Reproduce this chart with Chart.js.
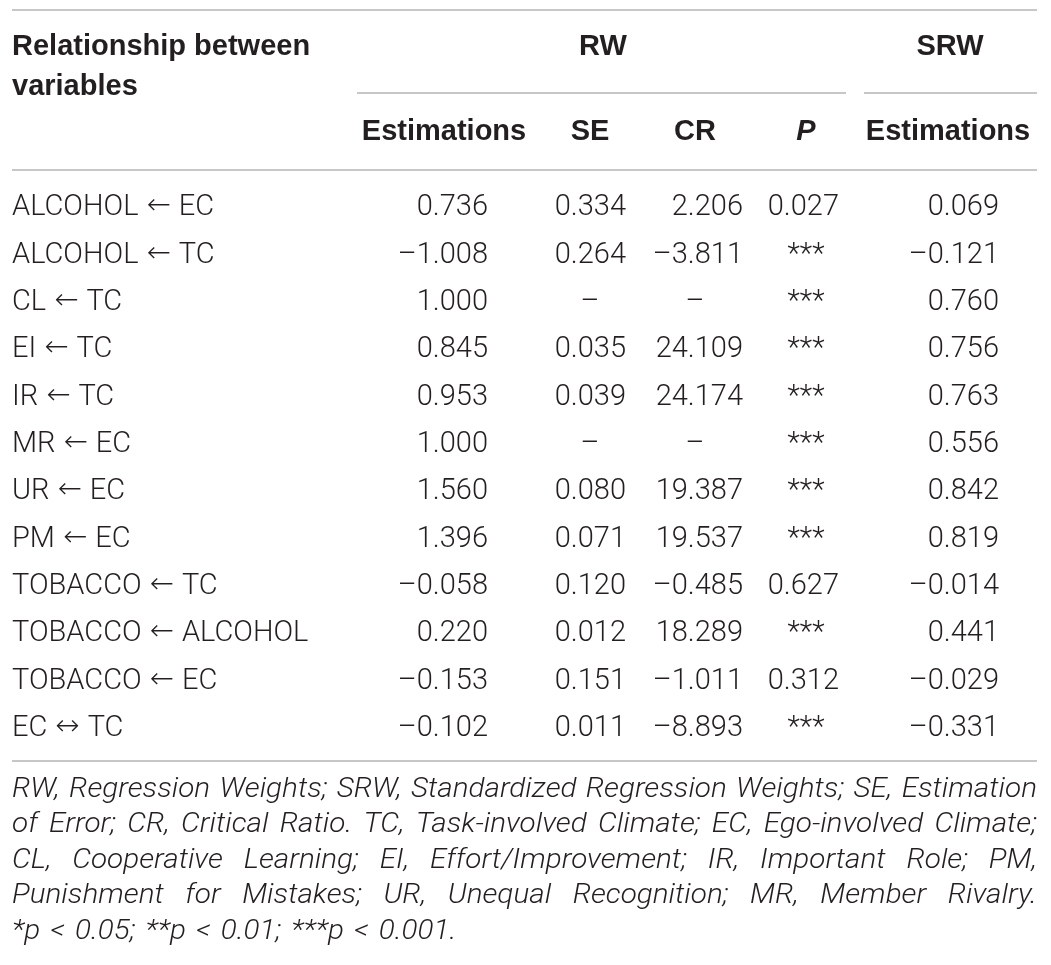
<!DOCTYPE html>
<html lang="en">
<head>
<meta charset="UTF-8">
<title>Regression weights</title>
<script src="https://cdn.jsdelivr.net/npm/chart.js"></script>
<style>
  html, body { margin: 0; padding: 0; background: #ffffff; }
  #wrap { width: 1051px; height: 965px; }
</style>
</head>
<body>
<div id="wrap"><canvas id="tbl" width="1051" height="965"></canvas></div>

<script>
  // table rows
  const relations = [
    'ALCOHOL \u2190 EC', 'ALCOHOL \u2190 TC', 'CL \u2190 TC', 'EI \u2190 TC',
    'IR \u2190 TC', 'MR \u2190 EC', 'UR \u2190 EC', 'PM \u2190 EC',
    'TOBACCO \u2190 TC', 'TOBACCO \u2190 ALCOHOL', 'TOBACCO \u2190 EC', 'EC \u2194 TC'
  ];
  const rwEstimations = [0.736, -1.008, 1.000, 0.845, 0.953, 1.000, 1.560, 1.396, -0.058, 0.220, -0.153, -0.102];
  const rwSE = [0.334, 0.264, null, 0.035, 0.039, null, 0.080, 0.071, 0.120, 0.012, 0.151, 0.011];
  const rwCR = [2.206, -3.811, null, 24.109, 24.174, null, 19.387, 19.537, -0.485, 18.289, -1.011, -8.893];
  const rwP = [0.027, '***', '***', '***', '***', '***', '***', '***', 0.627, '***', 0.312, '***'];
  const srwEstimations = [0.069, -0.121, 0.760, 0.756, 0.763, 0.556, 0.842, 0.819, -0.014, 0.441, -0.029, -0.331];

  const groupHeaders = ['RW', 'SRW'];
  const columnHeaders = ['Estimations', 'SE', 'CR', 'P', 'Estimations'];
  const notes = [
    'RW, Regression Weights; SRW, Standardized Regression Weights; SE, Estimation',
    'of Error; CR, Critical Ratio. TC, Task-involved Climate; EC, Ego-involved Climate;',
    'CL, Cooperative Learning; EI, Effort/Improvement; IR, Important Role; PM,',
    'Punishment for Mistakes; UR, Unequal Recognition; MR, Member Rivalry.',
    '*p < 0.05; **p < 0.01; ***p < 0.001.'
  ];

  const INK = '#231f20';
  const RULE = '#b4b4b4';
  const BODY = '300 29px Roboto, "Liberation Sans", sans-serif';
  const ARROW = '200 29px "DejaVu Sans", sans-serif';
  const BOLD = 'bold 29px "Liberation Sans", Arial, sans-serif';
  const BOLD_IT = 'italic bold 29px "Liberation Sans", Arial, sans-serif';
  const NOTE = 'italic 300 28px Roboto, "Liberation Sans", sans-serif';
  const NOTE_STRETCH = 1.06;

  // the x axis runs in page pixels, so these are column anchors on it
  const cols = [
    { values: rwEstimations, right: 488, centre: 444 },
    { values: rwSE, right: 626, centre: 590 },
    { values: rwCR, right: 743, centre: 695 },
    { values: rwP, right: 839, centre: 806 },
    { values: srwEstimations, right: 999, centre: 948 }
  ];

  function fmt(v) {
    const s = Math.abs(v).toFixed(3);
    return v < 0 ? '\u2013' + s : s;
  }

  // label with the arrow set in a font that has a full-width arrow
  function drawRelation(ctx, text, left, yb) {
    const parts = text.split(/\s*([\u2190\u2194])\s*/);
    let xx = left;
    parts.forEach(p => {
      const isArrow = p === '\u2190' || p === '\u2194';
      ctx.font = isArrow ? ARROW : BODY;
      if (isArrow) xx += 8;
      ctx.fillText(p, xx, isArrow ? yb - 1 : yb);
      xx += ctx.measureText(p).width;
      if (isArrow) xx += 8;
    });
    ctx.font = BODY;
  }

  function stretchedWord(ctx, w, xx, yb) {
    ctx.save();
    ctx.translate(xx, yb);
    ctx.scale(NOTE_STRETCH, 1);
    ctx.fillText(w, 0, 0);
    ctx.restore();
  }

  function noteLine(ctx, text, left, right, yb, justified) {
    const words = text.split(' ');
    const widths = words.map(w => ctx.measureText(w).width * NOTE_STRETCH);
    const total = widths.reduce((a, b) => a + b, 0);
    const gap = justified ? (right - left - total) / (words.length - 1)
                          : ctx.measureText(' ').width * NOTE_STRETCH * 1.4;
    let xx = left;
    words.forEach((w, k) => {
      stretchedWord(ctx, w, xx, yb);
      xx += widths[k] + gap;
    });
  }

  const tablePlugin = {
    id: 'tablePlugin',
    beforeDraw(chart) {
      const ctx = chart.ctx;
      ctx.save();
      ctx.fillStyle = '#ffffff';
      ctx.fillRect(0, 0, chart.width, chart.height);
      ctx.restore();
    },
    afterDraw(chart) {
      const { ctx, scales: { x, y } } = chart;
      const px = v => x.getPixelForValue(v);
      ctx.save();

      // rules
      ctx.strokeStyle = RULE;
      ctx.lineWidth = 1.6;
      const rule = (a, b, yy) => {
        ctx.beginPath();
        ctx.moveTo(px(a), yy);
        ctx.lineTo(px(b), yy);
        ctx.stroke();
      };
      rule(12, 1037, 10);
      rule(357, 846, 93);
      rule(864, 1037, 93);
      rule(12, 1037, 170);
      rule(12, 1037, 761);

      // header
      ctx.fillStyle = INK;
      ctx.font = BOLD;
      ctx.textAlign = 'left';
      ctx.fillText('Relationship between', px(12), 55);
      ctx.fillText('variables', px(12), 95);
      ctx.textAlign = 'center';
      ctx.fillText(groupHeaders[0], px(603), 55);
      ctx.fillText(groupHeaders[1], px(950), 55);
      columnHeaders.forEach((h, c) => {
        ctx.font = h === 'P' ? BOLD_IT : BOLD;
        ctx.fillText(h, px(cols[c].centre), 140);
      });

      // body
      ctx.font = BODY;
      relations.forEach((r, i) => {
        const yb = y.getPixelForValue(i) + 10.5;
        ctx.textAlign = 'left';
        drawRelation(ctx, r, px(12), yb);
        cols.forEach(col => {
          const v = col.values[i];
          if (v === null) {
            ctx.textAlign = 'center';
            ctx.fillText('\u2013', px(col.centre), yb);
          } else if (typeof v === 'string') {
            ctx.textAlign = 'center';
            ctx.fillText(v, px(col.centre), yb);
          } else {
            ctx.textAlign = 'right';
            ctx.fillText(fmt(v), px(col.right), yb);
          }
        });
      });

      // footnote
      ctx.font = NOTE;
      ctx.textAlign = 'left';
      const noteBase = [797, 832, 868, 903, 939];
      notes.forEach((line, k) => {
        noteLine(ctx, line, px(12), px(1037), noteBase[k], k < notes.length - 1);
      });

      ctx.restore();
    }
  };

  Promise.all([document.fonts.load(BODY), document.fonts.load(ARROW), document.fonts.load(BOLD), document.fonts.load(NOTE)])
    .catch(() => null)
    .then(() => {
      new Chart(document.getElementById('tbl'), {
        type: 'scatter',
        data: { labels: relations, datasets: [] },
        options: {
          responsive: false,
          animation: false,
          events: [],
          layout: { padding: { top: 181, bottom: 216, left: 0, right: 0 } },
          plugins: { legend: { display: false }, tooltip: { enabled: false } },
          scales: {
            x: { type: 'linear', min: 0, max: 1051, display: false },
            y: { type: 'category', labels: relations, offset: true, display: false }
          }
        },
        plugins: [tablePlugin]
      });
    });
</script>
</body>
</html>
